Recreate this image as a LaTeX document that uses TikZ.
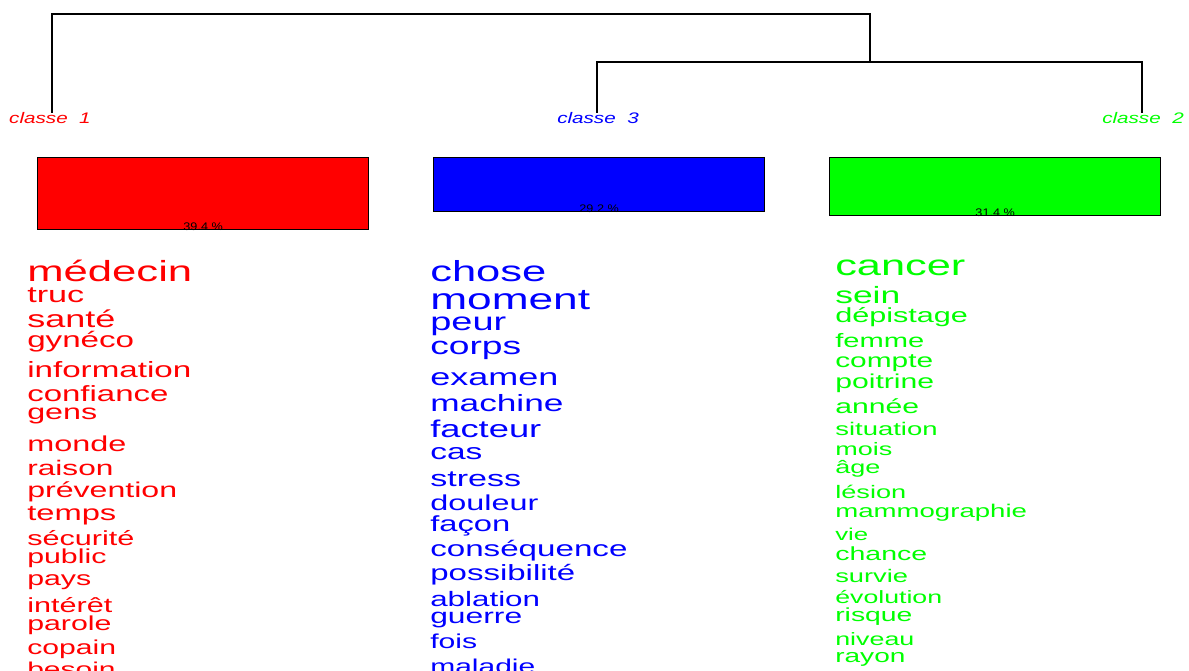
\documentclass[tikz,border=0pt]{standalone}
\usepackage{fontspec}
\setmainfont{Liberation Sans}
\usetikzlibrary{positioning}

\begin{document}
\begin{tikzpicture}[
    x=1pt, y=-1pt,
    line join=miter
]
\tikzset{
    word/.style = {anchor=base west, inner sep=0pt, xscale=1.5},
    classe/.style = {anchor=base, inner sep=0pt, xscale=1.35, font=\fontsize{15.3}{15.3}\selectfont\itshape},
    bar/.style = {draw=black, line width=1.3pt, anchor=north west, inner sep=0pt},
    pct/.style = {anchor=base, inner sep=0pt, xscale=1.15, font=\fontsize{11}{11}\selectfont},
    tree/.style = {draw=black, line width=1.2pt}
}
\definecolor{cls1}{HTML}{FF0000}
\definecolor{cls2}{HTML}{00FF00}
\definecolor{cls3}{HTML}{0000FF}
\useasboundingbox (0,0) rectangle (1189,671);
\clip (0,0) rectangle (1189,671);
\fill[white] (0,0) rectangle (1189,671);

% dendrogramme
\node[classe, text=cls1] (c1) at (50,124) {classe~~1};
\node[classe, text=cls3] (c3) at (598,124) {classe~~3};
\node[classe, text=cls2] (c2) at (1143,124) {classe~~2};
\coordinate (n23) at (870,62);
\coordinate (root) at (461,14);
\draw[tree] (c3.north -| 597,0) |- (n23) -| (c2.north -| 1142,0);
\draw[tree] (c1.north -| 52,0) |- (root) -| (n23);

% barres
\node[bar, fill=cls1, minimum width=331, minimum height=72] (b1) at (37,157) {};
\node[bar, fill=cls3, minimum width=331, minimum height=54] (b3) at (433,157) {};
\node[bar, fill=cls2, minimum width=331, minimum height=58] (b2) at (829,157) {};
\node[pct] (p1) at (b1.south) {39.4 \%};
\node[pct] (p3) at (b3.south) {29.2 \%};
\node[pct] (p2) at (b2.south) {31.4 \%};

% classe 1
\foreach \y/\s/\w [count=\i] in {281/29.1/médecin, 302/22.8/truc, 327/24/santé,
    347/22.1/gynéco, 377/22.1/information, 401/22/confiance, 419/21.5/gens,
    451/21.6/monde, 475/21.1/raison, 497/21.4/prévention, 520/21.8/temps,
    545/20.4/sécurité, 563/20.2/public, 585/20.2/pays, 612/20.4/intérêt,
    630/20.2/parole, 654/20.1/copain, 676/20/besoin}
    \node[word, text=cls1] (w1-\i) at (27,\y) {\fontsize{\s}{\s}\selectfont \w};

% classe 3
\foreach \y/\s/\w [count=\i] in {281/29/chose, 309/29.5/moment, 330/25.3/peur,
    354/24.8/corps, 385/24/examen, 411/23.5/machine, 437/24.2/facteur,
    459/22.3/cas, 486/22.7/stress, 510/21.6/douleur, 531/21.8/façon,
    556/22.1/conséquence, 580/22/possibilité, 606/20.9/ablation,
    623/21.2/guerre, 648/20.1/fois, 673/20/maladie}
    \node[word, text=cls3] (w3-\i) at (430,\y) {\fontsize{\s}{\s}\selectfont \w};

% classe 2
\foreach \y/\s/\w [count=\i] in {276/28.9/cancer, 303/23.6/sein, 322/20.4/dépistage,
    347/19.4/femme, 367/19.9/compte, 388/20.1/poitrine, 413/20.1/année,
    435/18.3/situation, 455/18/mois, 473/18/âge, 498/18.1/lésion,
    517/18.4/mammographie, 540/17.2/vie, 560/19/chance, 582/18.2/survie,
    603/17.8/évolution, 621/18.9/risque, 645/17.9/niveau, 662/18.7/rayon}
    \node[word, text=cls2] (w2-\i) at (835,\y) {\fontsize{\s}{\s}\selectfont \w};
\end{tikzpicture}
\end{document}
